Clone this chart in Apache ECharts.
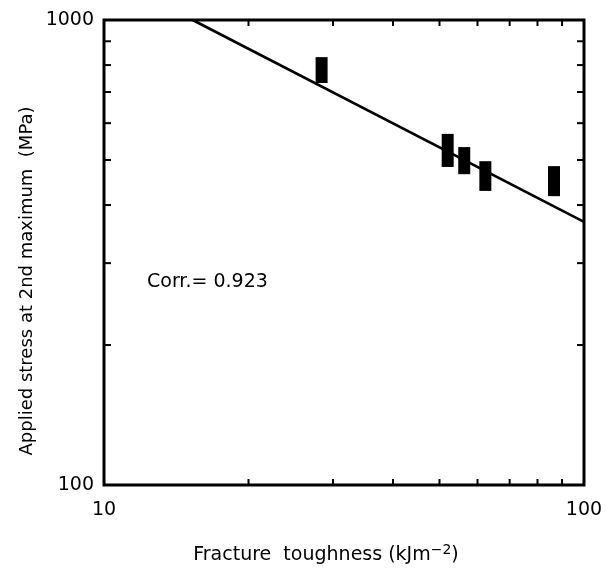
<!DOCTYPE html>
<html><head><meta charset="utf-8">
<script src="https://cdn.jsdelivr.net/npm/echarts@6/dist/echarts.min.js"></script>
<style>html,body{margin:0;padding:0;background:#fff}#c{width:606px;height:568px}</style>
</head><body><div id="c"></div>
<script>
// Data (log-log)
const toughness = [28.4, 52.0, 56.3, 62.3, 86.6];       // kJ m^-2
const stressLow  = [732, 483, 466, 429, 418];            // MPa
const stressHigh = [832, 569, 533, 497, 485];            // MPa
const fitLineX = [15.3, 100];
const fitLineY = [1000, 368];
const xMinorTicks = [20, 30, 40, 50, 60, 70, 80, 90];
const yMinorTicks = [200, 300, 400, 500, 600, 700, 800, 900];
const corrText = 'Corr.= 0.923';
const xTitle = 'Fracture  toughness (kJm';
const xTitleSup = '−2';
const xTitleEnd = ')';
const yTitle = 'Applied stress at 2nd maximum  (MPa)';

const SANS = '"DejaVu Sans", sans-serif';
const chart = echarts.init(document.getElementById('c'), null, {renderer: 'canvas'});

const boxes = toughness.map((x, i) => [x, stressLow[i], stressHigh[i]]);
const fit = fitLineX.map((x, i) => [x, fitLineY[i]]);

const option = {
  animation: false,
  backgroundColor: '#fff',
  grid: {left: 104, top: 20, width: 480, height: 465, show: true, borderColor: '#000', borderWidth: 3, backgroundColor: 'transparent'},
  xAxis: {
    type: 'log', logBase: 10, min: 10, max: 100,
    axisLine: {show: false}, axisTick: {show: false}, splitLine: {show: false},
    axisLabel: {color: '#000', fontSize: 19, fontFamily: SANS, margin: 16, formatter: v => String(v)}
  },
  yAxis: {
    type: 'log', logBase: 10, min: 100, max: 1000,
    axisLine: {show: false}, axisTick: {show: false}, splitLine: {show: false},
    axisLabel: {color: '#000', fontSize: 19, fontFamily: SANS, margin: 10, formatter: v => String(v)}
  },
  graphic: [
    {type: 'text', left: 147, top: 273, style: {text: corrText, fill: '#000', font: '19px ' + SANS}},
    {type: 'text', x: 27, y: 281, rotation: Math.PI / 2, style: {text: yTitle, fill: '#000', font: '18px ' + SANS, align: 'center', verticalAlign: 'middle'}},
    {type: 'text', x: 326, y: 555, style: {
      text: xTitle + '{sup|' + xTitleSup + '}' + xTitleEnd, fill: '#000', font: '19px ' + SANS,
      align: 'center', verticalAlign: 'middle',
      rich: {sup: {fontSize: 14, fontFamily: SANS, fill: '#000', verticalAlign: 'top', padding: [0, 0, 9, 0]}}
    }}
  ],
  series: [
    {type: 'line', data: fit, symbol: 'none', lineStyle: {color: '#000', width: 2.6}, clip: true, z: 3},
    {type: 'custom', data: boxes, z: 4,
      renderItem: function (params, api) {
        const top = api.coord([api.value(0), api.value(2)]);
        const bot = api.coord([api.value(0), api.value(1)]);
        return {type: 'rect', shape: {x: top[0] - 6, y: top[1], width: 12, height: bot[1] - top[1]}, style: {fill: '#000'}};
      }},
    {type: 'custom', data: xMinorTicks.map(v => [v]), silent: true, z: 5,
      renderItem: function (params, api) {
        const b = api.coord([api.value(0), 100]);
        const t = api.coord([api.value(0), 1000]);
        return {type: 'group', children: [
          {type: 'line', shape: {x1: b[0], y1: b[1], x2: b[0], y2: b[1] - 6}, style: {stroke: '#000', lineWidth: 2}},
          {type: 'line', shape: {x1: t[0], y1: t[1], x2: t[0], y2: t[1] + 6}, style: {stroke: '#000', lineWidth: 2}}
        ]};
      }},
    {type: 'custom', data: yMinorTicks.map(v => [v]), silent: true, z: 5,
      renderItem: function (params, api) {
        const l = api.coord([10, api.value(0)]);
        const r = api.coord([100, api.value(0)]);
        return {type: 'group', children: [
          {type: 'line', shape: {x1: l[0], y1: l[1], x2: l[0] + 7, y2: l[1]}, style: {stroke: '#000', lineWidth: 2}},
          {type: 'line', shape: {x1: r[0], y1: r[1], x2: r[0] - 7, y2: r[1]}, style: {stroke: '#000', lineWidth: 2}}
        ]};
      }}
  ]
};
chart.setOption(option);
</script></body></html>
